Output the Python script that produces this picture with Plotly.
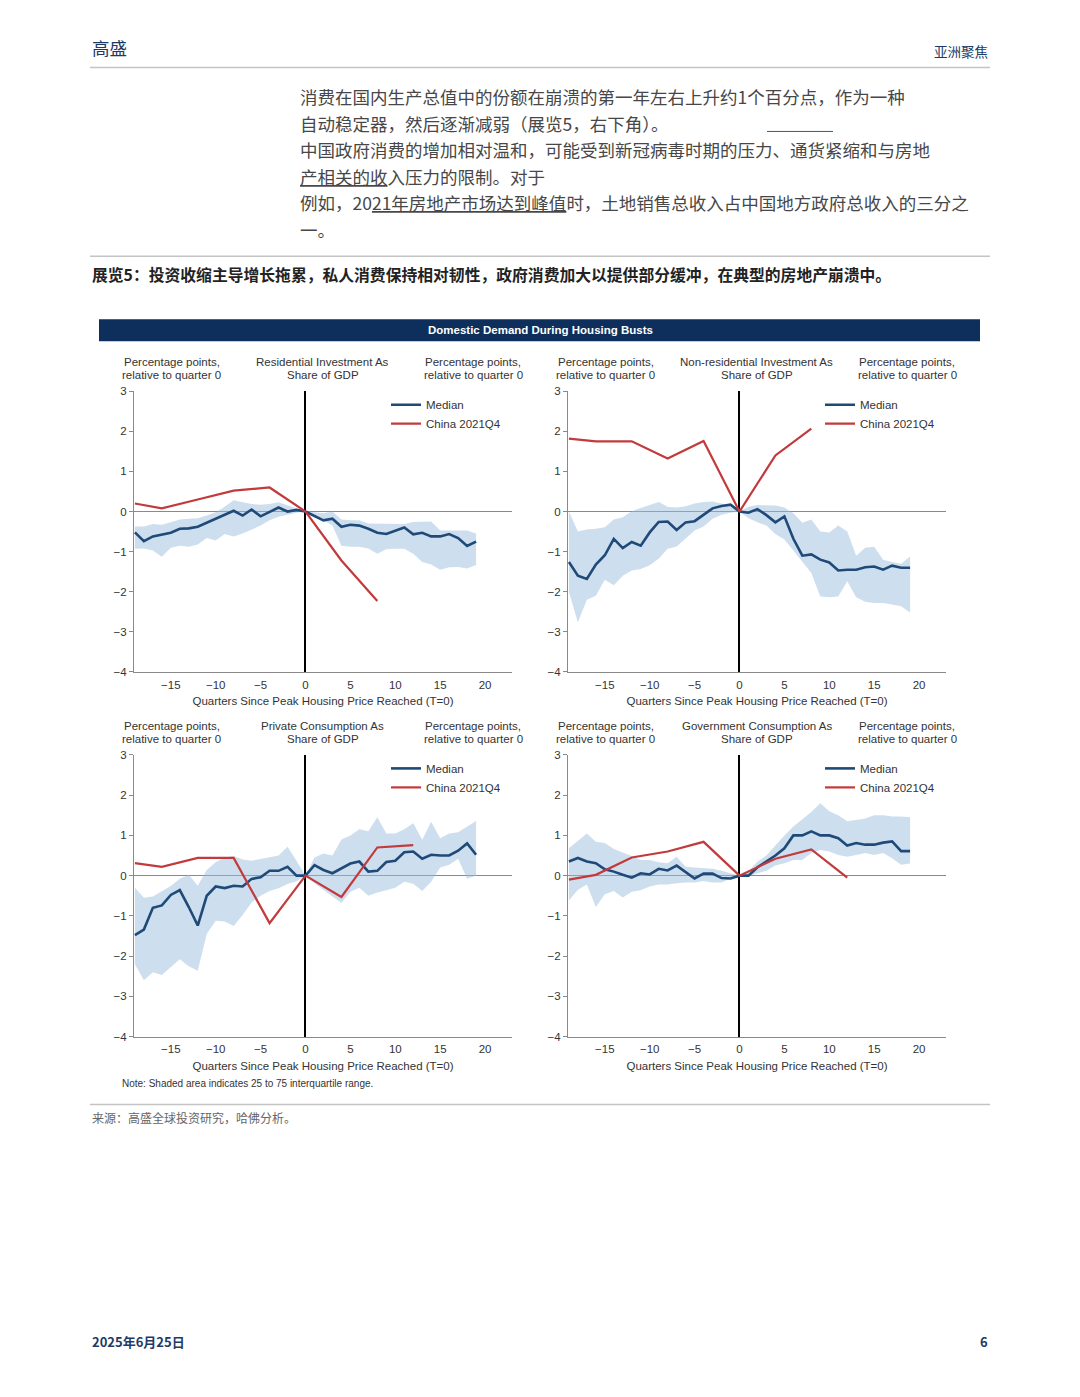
import plotly.graph_objects as go

# ---------------- data ----------------
quarters = list(range(-19, 20))
china_q_inv = [-19, -16, -12, -8, -4, 0, 4, 8]
china_q_cons = [-19, -16, -12, -8, -4, 0, 4, 8, 12]

res_median = [-0.52, -0.74, -0.62, -0.58, -0.53, -0.43, -0.42, -0.38, -0.28, -0.18, -0.10, 0.02, -0.10, 0.05, -0.12, 0.00, 0.10, 0.00, 0.04,
              0.00,
              -0.10, -0.22, -0.18, -0.38, -0.33, -0.35, -0.43, -0.53, -0.56, -0.47, -0.40, -0.57, -0.53, -0.62, -0.62, -0.56, -0.66, -0.86, -0.75]
res_upper = [-0.37, -0.37, -0.31, -0.33, -0.27, -0.20, -0.18, -0.17, -0.10, -0.02, 0.12, 0.28, 0.23, 0.19, 0.17, 0.19, 0.23, 0.15, 0.08,
             0.00,
             -0.02, -0.04, 0.00, -0.20, -0.22, -0.22, -0.30, -0.30, -0.30, -0.31, -0.31, -0.26, -0.25, -0.25, -0.47, -0.47, -0.46, -0.47, -0.55]
res_lower = [-0.93, -0.92, -0.97, -1.13, -0.90, -0.85, -0.88, -0.82, -0.66, -0.72, -0.56, -0.62, -0.55, -0.45, -0.35, -0.22, -0.13, -0.08, -0.03,
             0.00,
             -0.14, -0.22, -0.35, -0.85, -0.88, -0.88, -0.92, -1.05, -0.94, -0.93, -0.93, -1.05, -1.26, -1.32, -1.45, -1.39, -1.38, -1.42, -1.33]
china_res = [0.20, 0.08, 0.30, 0.52, 0.60, 0.00, -1.22, -2.23]

nres_median = [-1.26, -1.60, -1.68, -1.32, -1.09, -0.68, -0.91, -0.76, -0.85, -0.52, -0.26, -0.25, -0.46, -0.27, -0.24, -0.09, 0.08, 0.14, 0.17,
               0.00,
               -0.03, 0.06, -0.09, -0.27, -0.12, -0.68, -1.10, -1.07, -1.20, -1.27, -1.47, -1.45, -1.45, -1.39, -1.37, -1.45, -1.35, -1.40, -1.40]
nres_upper = [0.00, -0.50, -0.45, -0.43, -0.39, -0.20, -0.14, 0.01, 0.09, 0.16, 0.24, 0.12, 0.10, 0.13, 0.20, 0.24, 0.25, 0.20, 0.12,
              0.00,
              0.12, 0.16, 0.15, 0.15, 0.10, -0.04, -0.28, -0.20, -0.50, -0.52, -0.35, -0.50, -1.10, -0.90, -0.88, -1.20, -1.26, -1.30, -1.12]
nres_lower = [-2.00, -2.76, -2.20, -2.10, -1.70, -1.84, -1.60, -1.47, -1.43, -1.34, -1.18, -0.93, -0.87, -0.66, -0.47, -0.37, -0.18, -0.08, -0.03,
              0.00,
              -0.17, -0.27, -0.35, -0.56, -0.70, -0.97, -1.26, -1.53, -2.12, -2.14, -2.12, -1.74, -2.14, -2.25, -2.28, -2.28, -2.32, -2.36, -2.52]
china_nres = [1.82, 1.75, 1.75, 1.32, 1.76, 0.00, 1.40, 2.07]

pc_median = [-1.48, -1.34, -0.80, -0.74, -0.48, -0.36, -0.78, -1.24, -0.50, -0.27, -0.31, -0.25, -0.27, -0.08, -0.04, 0.12, 0.12, 0.22, 0.00,
             0.00,
             0.26, 0.14, 0.06, 0.17, 0.30, 0.35, 0.10, 0.12, 0.34, 0.37, 0.58, 0.60, 0.42, 0.52, 0.50, 0.50, 0.62, 0.80, 0.52]
pc_upper = [-0.30, -0.55, -0.52, -0.40, -0.26, -0.08, 0.02, -0.25, 0.14, 0.33, 0.45, 0.49, 0.40, 0.37, 0.42, 0.46, 0.50, 0.72, 0.37,
            0.00,
            0.45, 0.55, 0.50, 0.90, 1.00, 1.15, 1.10, 1.45, 1.05, 1.05, 1.15, 1.30, 0.89, 1.34, 0.93, 1.05, 1.08, 1.22, 1.36]
pc_lower = [-2.20, -2.60, -2.40, -2.47, -2.27, -2.08, -2.25, -2.36, -1.45, -1.12, -1.14, -1.25, -0.98, -0.67, -0.50, -0.38, -0.31, -0.21, -0.14,
            0.00,
            -0.19, -0.36, -0.52, -0.68, -0.40, -0.30, -0.50, -0.42, -0.36, -0.30, -0.15, -0.20, -0.38, -0.15, 0.20, 0.27, 0.42, -0.08, 0.00]
china_pc = [0.31, 0.22, 0.44, 0.44, -1.18, 0.00, -0.53, 0.70, 0.76]

gc_median = [0.35, 0.44, 0.35, 0.31, 0.16, 0.10, 0.02, -0.05, 0.06, 0.03, 0.17, 0.13, 0.25, 0.08, -0.07, 0.05, 0.05, -0.06, -0.07,
             0.00,
             0.00, 0.21, 0.35, 0.50, 0.68, 1.00, 1.00, 1.10, 1.00, 1.00, 0.93, 0.75, 0.81, 0.77, 0.77, 0.82, 0.85, 0.61, 0.61]
gc_upper = [0.68, 0.87, 1.05, 0.84, 0.81, 0.66, 0.58, 0.49, 0.39, 0.39, 0.33, 0.31, 0.47, 0.22, 0.20, 0.18, 0.17, 0.12, 0.06,
            0.00,
            0.10, 0.35, 0.50, 0.75, 1.00, 1.22, 1.40, 1.58, 1.80, 1.60, 1.50, 1.35, 1.38, 1.42, 1.50, 1.50, 1.47, 1.47, 1.45]
gc_lower = [-0.62, -0.35, -0.22, -0.78, -0.46, -0.38, -0.54, -0.40, -0.36, -0.27, -0.22, -0.22, -0.19, -0.17, -0.17, -0.13, -0.17, -0.17, -0.08,
            0.00,
            -0.02, 0.06, 0.12, 0.25, 0.31, 0.39, 0.39, 0.56, 0.64, 0.60, 0.51, 0.47, 0.51, 0.56, 0.51, 0.56, 0.43, 0.27, 0.30]
china_gc = [-0.10, 0.02, 0.45, 0.60, 0.84, 0.00, 0.42, 0.65, -0.05]

panel_titles = [("Residential Investment As", "Share of GDP"),
                ("Non-residential Investment As", "Share of GDP"),
                ("Private Consumption As", "Share of GDP"),
                ("Government Consumption As", "Share of GDP")]
unit_lines = ("Percentage points,", "relative to quarter 0")
x_title = "Quarters Since Peak Housing Price Reached (T=0)"

body_lines = [
    "消费在国内生产总值中的份额在崩溃的第一年左右上升约1个百分点，作为一种",
    "自动稳定器，然后逐渐减弱（展览5，右下角）。",
    "中国政府消费的增加相对温和，可能受到新冠病毒时期的压力、通货紧缩和与房地",
    "<u>产相关的收</u>入压力的限制。对于",
    "例如，20<u>21年房地产市场达到峰值</u>时，土地销售总收入占中国地方政府总收入的三分之",
    "一。",
]

# ---------------- style ----------------
# The page body keeps the browser's default 8px margin, so the figure is
# sized to fit inside the window and page positions are offset by it.
OFF = 8
FW, FH = 1080 - 2 * OFF, 1397 - 2 * OFF
NAVY = "#1f4a78"
RED = "#c23a3c"
BAND = "rgba(150,185,222,0.48)"
AX = "#8a8a8a"
TXT = "#333333"
LAT = "Liberation Sans, Arial, sans-serif"
CJK = "Noto Sans CJK SC, sans-serif"


def px(x):
    return (x - OFF) / FW


def py(y):
    yy = (y - 5.5) / 0.9922  # calibrated vertical placement in the captured page
    return 1 - (yy - OFF) / FH


panels = [
    dict(med=res_median, up=res_upper, lo=res_lower, cq=china_q_inv, cv=china_res, x0=134, x1=512, y0=391, y1=672),
    dict(med=nres_median, up=nres_upper, lo=nres_lower, cq=china_q_inv, cv=china_nres, x0=568, x1=946, y0=391, y1=672),
    dict(med=pc_median, up=pc_upper, lo=pc_lower, cq=china_q_cons, cv=china_pc, x0=134, x1=512, y0=755, y1=1037),
    dict(med=gc_median, up=gc_upper, lo=gc_lower, cq=china_q_cons, cv=china_gc, x0=568, x1=946, y0=755, y1=1037),
]

fig = go.Figure()
layout = {}
annotations = []
shapes = []

for i, p in enumerate(panels):
    k = i + 1
    xn = "x" if k == 1 else f"x{k}"
    yn = "y" if k == 1 else f"y{k}"
    lg = "legend" if k == 1 else f"legend{k}"

    fig.add_trace(go.Scatter(x=quarters, y=p["lo"], mode="lines", line=dict(width=0),
                             showlegend=False, hoverinfo="skip", xaxis=xn, yaxis=yn))
    fig.add_trace(go.Scatter(x=quarters, y=p["up"], mode="lines", line=dict(width=0),
                             fill="tonexty", fillcolor=BAND,
                             showlegend=False, hoverinfo="skip", xaxis=xn, yaxis=yn))
    fig.add_trace(go.Scatter(x=quarters, y=p["med"], mode="lines", name="Median",
                             line=dict(color=NAVY, width=2.6), xaxis=xn, yaxis=yn, legend=lg))
    fig.add_trace(go.Scatter(x=p["cq"], y=p["cv"], mode="lines", name="China 2021Q4",
                             line=dict(color=RED, width=2.2), xaxis=xn, yaxis=yn, legend=lg))

    xkey = "xaxis" if k == 1 else f"xaxis{k}"
    ykey = "yaxis" if k == 1 else f"yaxis{k}"
    layout[xkey] = dict(domain=[px(p["x0"]), px(p["x1"])], anchor=yn, range=[-19.1, 23],
                        tick0=0, dtick=5, showline=True, linecolor=AX, linewidth=1,
                        ticks="", showgrid=False, zeroline=True, zerolinecolor="black",
                        zerolinewidth=2, ticklabelstandoff=2,
                        tickfont=dict(family=LAT, size=11.5, color=TXT),
                        title=dict(text=x_title, font=dict(family=LAT, size=11.5, color=TXT), standoff=7))
    layout[ykey] = dict(domain=[py(p["y1"]), py(p["y0"])], anchor=xn, range=[-4, 3], dtick=1,
                        ticks="outside", ticklen=4, tickcolor=AX, showline=True, linecolor=AX,
                        linewidth=1, showgrid=False, zeroline=True, zerolinecolor=AX, zerolinewidth=1,
                        tickfont=dict(family=LAT, size=11.5, color=TXT))
    layout[f"yaxis{k + 4}"] = dict(overlaying=yn, side="right", anchor=xn, range=[-4, 3], dtick=1,
                                   ticks="outside", ticklen=4, tickcolor=AX, showline=True, linecolor=AX,
                                   linewidth=1, showgrid=False, zeroline=False,
                                   tickfont=dict(family=LAT, size=11.5, color=TXT))
    layout[lg] = dict(x=px(p["x0"] + 252), y=py(p["y0"] - 1), xanchor="left", yanchor="top",
                      bgcolor="rgba(0,0,0,0)", font=dict(family=LAT, size=11.5, color=TXT),
                      itemwidth=30, tracegroupgap=0, traceorder="normal")

    # panel header texts
    top1 = p["y0"] - 29
    top2 = p["y0"] - 16
    for cx, lines in ((p["x0"] + 37.7, unit_lines), (p["x0"] + 188.7, panel_titles[i]),
                      (p["x0"] + 339.3, unit_lines)):
        for yy, t in zip((top1, top2), lines):
            annotations.append(dict(text=t, x=px(cx), y=py(yy), xref="paper", yref="paper",
                                    xanchor="center", yanchor="middle", showarrow=False,
                                    font=dict(family=LAT, size=11.5, color=TXT)))

# title bar
shapes.append(dict(type="rect", xref="paper", yref="paper", x0=px(99), x1=px(980), y0=py(341), y1=py(319),
                   fillcolor="#0e2f5c", line=dict(width=0), layer="below"))
annotations.append(dict(text="<b>Domestic Demand During Housing Busts</b>", x=px(540), y=py(330),
                        xref="paper", yref="paper", showarrow=False, xanchor="center", yanchor="middle",
                        font=dict(family=LAT, size=11.5, color="white")))
annotations.append(dict(text="Note: Shaded area indicates 25 to 75 interquartile range.", x=px(120), y=py(1084),
                        xref="paper", yref="paper", showarrow=False, xanchor="left", yanchor="middle",
                        font=dict(family=LAT, size=10, color=TXT)))

# page header / footer
annotations.append(dict(text="高盛", x=px(90), y=py(47), xref="paper", yref="paper", showarrow=False,
                        xanchor="left", yanchor="middle", font=dict(family=CJK, size=17.5, color="#1d3b66")))
annotations.append(dict(text="亚洲聚焦", x=px(990), y=py(50), xref="paper", yref="paper", showarrow=False,
                        xanchor="right", yanchor="middle", font=dict(family=CJK, size=13.5, color="#1d3b66")))
for yy in (67, 256, 1105):
    shapes.append(dict(type="line", xref="paper", yref="paper", x0=px(90), x1=px(990), y0=py(yy), y1=py(yy),
                       line=dict(color="#c4c4c4", width=1.5)))
for j, t in enumerate(body_lines):
    annotations.append(dict(text=t, x=px(298), y=py(96 + j * 26.6), xref="paper", yref="paper", showarrow=False,
                            xanchor="left", yanchor="middle", font=dict(family=CJK, size=17.5, color="#474747")))
shapes.append(dict(type="line", xref="paper", yref="paper", x0=px(767), x1=px(833), y0=py(131), y1=py(131),
                   line=dict(color="#555555", width=1)))
annotations.append(dict(text="<b>展览5：投资收缩主导增长拖累，私人消费保持相对韧性，政府消费加大以提供部分缓冲，在典型的房地产崩溃中。</b>",
                        x=px(90), y=py(274), xref="paper", yref="paper", showarrow=False,
                        xanchor="left", yanchor="middle", font=dict(family=CJK, size=15.8, color="#222222")))
annotations.append(dict(text="来源：高盛全球投资研究，哈佛分析。", x=px(90), y=py(1118), xref="paper", yref="paper",
                        showarrow=False, xanchor="left", yanchor="middle",
                        font=dict(family=CJK, size=12, color="#666666")))
annotations.append(dict(text="<b>2025年6月25日</b>", x=px(90), y=py(1342), xref="paper", yref="paper",
                        showarrow=False, xanchor="left", yanchor="middle",
                        font=dict(family=CJK, size=13, color="#1d3b66")))
annotations.append(dict(text="<b>6</b>", x=px(990), y=py(1342), xref="paper", yref="paper",
                        showarrow=False, xanchor="right", yanchor="middle",
                        font=dict(family=CJK, size=13, color="#1d3b66")))

fig.update_layout(**layout)
fig.update_layout(width=FW, height=FH, margin=dict(l=0, r=0, t=0, b=0),
                  paper_bgcolor="white", plot_bgcolor="rgba(0,0,0,0)",
                  annotations=annotations, shapes=shapes, hovermode=False,
                  font=dict(family=LAT, color=TXT))

fig.write_html("out.html")
